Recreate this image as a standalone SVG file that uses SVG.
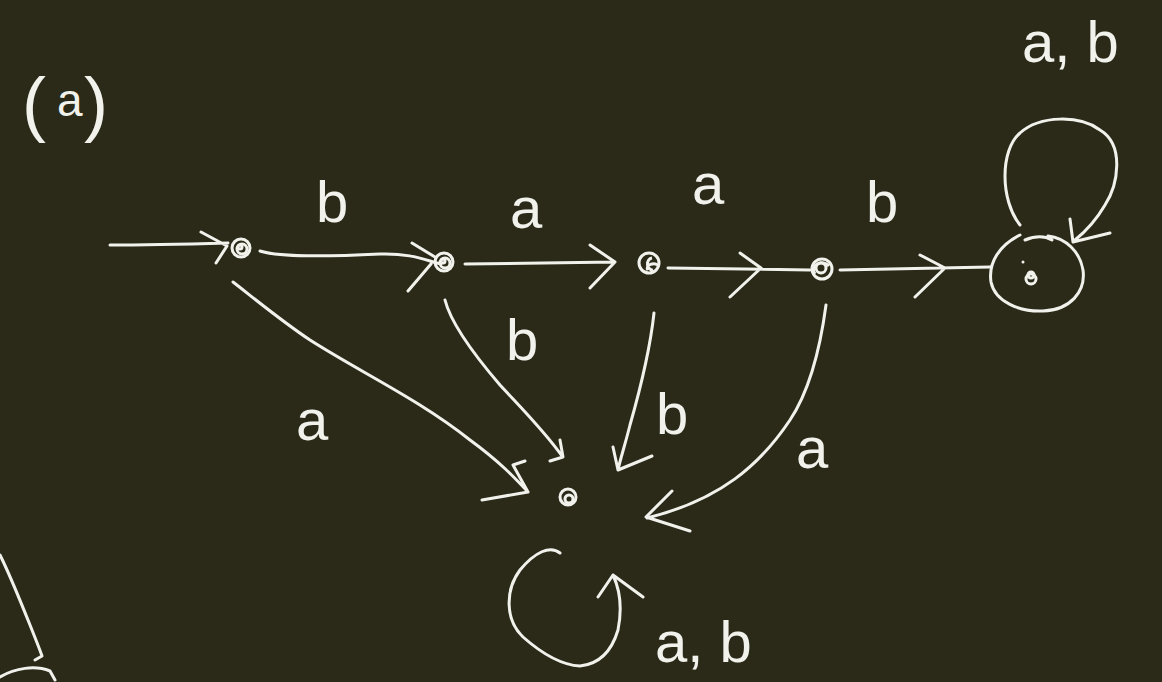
<svg xmlns="http://www.w3.org/2000/svg" width="1162" height="682" viewBox="0 0 1162 682">
<style>
.s{fill:none;stroke:#f2f2ec;stroke-width:3;stroke-linecap:round;stroke-linejoin:round}
.n{fill:none;stroke:#f2f2ec;stroke-width:3}
.t{fill:#f2f2ec;font-family:"Liberation Sans",Arial,sans-serif;font-size:58px}
.p{font-size:72px}
.q{font-size:46px}
</style>
<rect width="1162" height="682" fill="#2b2a19"/>
<g id="title"><text class="t p" x="22" y="128">(</text><text class="t q" x="57" y="116">a</text><text class="t p" x="84" y="128">)</text></g>
<g id="n1"><circle class="n" cx="241" cy="248" r="9"/><circle class="n" cx="242" cy="249" r="5"/><circle class="n" cx="240" cy="247" r="2"/></g>
<g id="n2"><circle class="n" cx="444" cy="262" r="9"/><circle class="n" cx="445" cy="263" r="5"/><circle class="n" cx="443" cy="261" r="2"/></g>
<g id="n3"><circle class="n" cx="649" cy="263" r="10"/><path class="n" d="M652,258 A5,6 0 1,0 653,270 M648,270 A6,4 0 0,1 659,266"/></g>
<g id="n4"><circle class="n" cx="822" cy="269" r="10"/><circle class="n" cx="821" cy="268" r="5"/><path class="n" d="M815,274 A7,6 0 0,1 829,266"/></g>
<g id="n5"><path class="s" d="M1020,235 C1000,245 988,262 991,282 C995,302 1020,312 1043,311 C1070,310 1086,292 1083,270 C1080,252 1066,238 1048,236 M1025,240 C1035,236 1045,236 1052,240"/><circle class="n" cx="1031" cy="279" r="5"/><circle class="n" cx="1031" cy="275" r="3"/><circle cx="1023" cy="262" r="1.5" fill="#f2f2ec"/></g>
<g id="n6"><circle class="n" cx="568" cy="497" r="8"/><circle class="n" cx="569" cy="499" r="4"/></g>
<g id="connectors">
<path class="s" d="M110,245 C150,245 190,244 228,243 M201,232 L227,246 L216,263"/>
<path class="s" d="M260,251 C280,258 340,256 380,254 C410,253 425,260 441,264 M412,243 L435,257 M408,291 L431,264"/>
<path class="s" d="M465,264 L615,262 M590,245 L615,262 L590,288"/>
<path class="s" d="M668,268 L810,270 M740,253 L761,268 L730,297"/>
<path class="s" d="M840,270 L990,267 M920,255 L945,268 L915,297"/>
<path class="s" d="M1020,225 C1000,200 1000,150 1020,133 C1040,115 1080,115 1100,130 C1125,145 1118,185 1105,205 C1095,222 1085,232 1075,240 M1070,219 L1073,242 L1110,233"/>
<path class="s" d="M233,282 C250,295 280,320 310,340 C360,372 420,400 470,440 C500,462 515,478 528,492 M482,500 L528,492 L513,465 L525,461"/>
<path class="s" d="M445,300 C450,320 470,350 500,385 C525,412 545,432 562,456 M550,461 L563,457 L560,440"/>
<path class="s" d="M654,313 C650,350 640,390 630,425 C625,445 620,460 618,470 M613,447 L618,470 L652,456"/>
<path class="s" d="M826,305 C820,350 810,390 790,420 C760,465 720,500 647,518 M672,491 L646,517 L690,531"/>
<path class="s" d="M560,553 C550,545 535,552 520,570 C505,590 505,620 523,637 C540,652 560,665 580,666 C600,664 612,650 618,630 C622,610 620,590 613,575 M598,597 L613,575 L643,597"/>
<path class="s" d="M0,555 C10,575 20,600 30,625 C36,640 40,650 42,656 L35,660 M0,677 C15,668 35,665 50,671 L55,680"/>
</g>
<g id="labels">
<text class="t" x="316" y="222">b</text>
<text class="t" x="510" y="228">a</text>
<text class="t" x="692" y="204">a</text>
<text class="t" x="866" y="222">b</text>
<text class="t" x="1022" y="62">a, b</text>
<text class="t" x="506" y="360">b</text>
<text class="t" x="296" y="440">a</text>
<text class="t" x="656" y="434">b</text>
<text class="t" x="796" y="468">a</text>
<text class="t" x="655" y="662">a, b</text>
</g>
</svg>
